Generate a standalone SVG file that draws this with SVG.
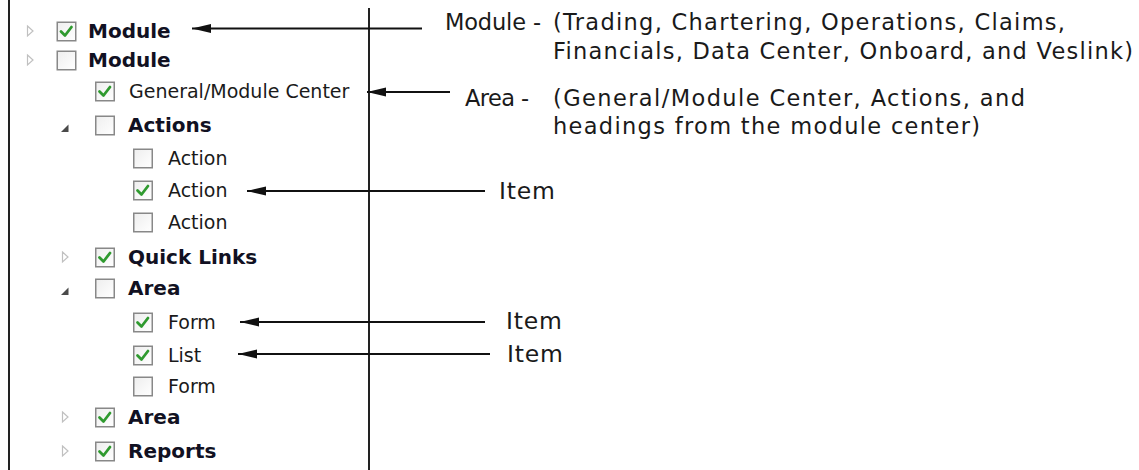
<svg xmlns="http://www.w3.org/2000/svg" xmlns:xlink="http://www.w3.org/1999/xlink" width="1139" height="470" viewBox="0 0 1139 470">
<style>
.b{font-family:"DejaVu Sans",Verdana,sans-serif;font-weight:bold;font-size:20px;fill:#111122}
.n{font-family:"DejaVu Sans",Verdana,sans-serif;font-size:19px;fill:#1a1a1a}
.r{font-family:"DejaVu Sans",Verdana,sans-serif;font-size:22.5px;fill:#1a1a1a}
.it{font-family:"DejaVu Sans",Verdana,sans-serif;font-size:23.5px;fill:#1a1a1a}
.frame{stroke:#222;stroke-width:2;fill:none}
.arr{stroke:#111;stroke-width:2;fill:none;marker-end:url(#ah)}
.tri{fill:#fff;stroke:#c0c0c0;stroke-width:1.2}
.tri2{fill:#4a4a4a}
</style>
<defs>
<linearGradient id="cbg" x1="0" y1="0" x2="1" y2="1">
<stop offset="0" stop-color="#eeeeee"/><stop offset="1" stop-color="#ffffff"/>
</linearGradient>
<g id="cb"><rect x="0.75" y="0.75" width="18.5" height="18.5" fill="url(#cbg)" stroke="#888" stroke-width="1.5"/></g>
<g id="cbc"><use xlink:href="#cb"/><polyline points="4.5,10 8.5,14 15,5.5" fill="none" stroke="#2f9a2f" stroke-width="2.8" stroke-linecap="round" stroke-linejoin="round"/></g>
<marker id="ah" markerUnits="userSpaceOnUse" markerWidth="20" markerHeight="10" refX="19" refY="4.5" orient="auto">
<path d="M0,0 L19,4.5 L0,9 z" fill="#111"/>
</marker>
</defs>

<g id="frame">
<line class="frame" x1="9" y1="0" x2="9" y2="470"/>
<line class="frame" x1="369" y1="8" x2="369" y2="470"/>
</g>

<g id="node-module-1">
<polygon class="tri" points="27.5,26 33,31 27.5,36"/>
<use xlink:href="#cbc" x="56.5" y="21.5"/>
<text class="b" x="88" y="38">Module</text>
</g>
<g id="node-module-2">
<polygon class="tri" points="27.5,55 33,60 27.5,65"/>
<use xlink:href="#cb" x="56.5" y="50.5"/>
<text class="b" x="88" y="67">Module</text>
</g>
<g id="node-general">
<use xlink:href="#cbc" x="95" y="81.5"/>
<text class="n" x="129" y="98">General/Module Center</text>
</g>
<g id="node-actions">
<polygon class="tri2" points="61,132 68.5,124.5 68.5,132"/>
<use xlink:href="#cb" x="95" y="115.5"/>
<text class="b" x="128" y="132">Actions</text>
</g>
<g id="node-action-1">
<use xlink:href="#cb" x="133" y="148.5"/>
<text class="n" x="168" y="165">Action</text>
</g>
<g id="node-action-2">
<use xlink:href="#cbc" x="133" y="180.5"/>
<text class="n" x="168" y="197">Action</text>
</g>
<g id="node-action-3">
<use xlink:href="#cb" x="133" y="212.5"/>
<text class="n" x="168" y="229">Action</text>
</g>
<g id="node-quicklinks">
<polygon class="tri" points="62.5,252 68,257 62.5,262"/>
<use xlink:href="#cbc" x="95" y="247.5"/>
<text class="b" x="128" y="264">Quick Links</text>
</g>
<g id="node-area-1">
<polygon class="tri2" points="61,295 68.5,287.5 68.5,295"/>
<use xlink:href="#cb" x="95" y="278.5"/>
<text class="b" x="128" y="295">Area</text>
</g>
<g id="node-form-1">
<use xlink:href="#cbc" x="133" y="312.5"/>
<text class="n" x="168" y="329">Form</text>
</g>
<g id="node-list">
<use xlink:href="#cbc" x="133" y="345.5"/>
<text class="n" x="168" y="362">List</text>
</g>
<g id="node-form-2">
<use xlink:href="#cb" x="133" y="376.5"/>
<text class="n" x="168" y="393">Form</text>
</g>
<g id="node-area-2">
<polygon class="tri" points="62.5,412 68,417 62.5,422"/>
<use xlink:href="#cbc" x="95" y="407.5"/>
<text class="b" x="128" y="424">Area</text>
</g>
<g id="node-reports">
<polygon class="tri" points="62.5,446 68,451 62.5,456"/>
<use xlink:href="#cbc" x="95" y="441.5"/>
<text class="b" x="128" y="458">Reports</text>
</g>

<g id="label-module">
<text class="r" x="445" y="30" textLength="96" lengthAdjust="spacing">Module -</text>
<text class="r" x="553" y="30" textLength="512" lengthAdjust="spacing">(Trading, Chartering, Operations, Claims,</text>
<text class="r" x="553" y="59" textLength="580" lengthAdjust="spacing">Financials, Data Center, Onboard, and Veslink)</text>
</g>
<g id="label-area">
<text class="r" x="465" y="106" textLength="64" lengthAdjust="spacing">Area -</text>
<text class="r" x="553" y="106" textLength="472" lengthAdjust="spacing">(General/Module Center, Actions, and</text>
<text class="r" x="553" y="134" textLength="427" lengthAdjust="spacing">headings from the module center)</text>
</g>
<g id="label-item-1"><text class="it" x="499" y="199" textLength="56" lengthAdjust="spacing">Item</text></g>
<g id="label-item-2"><text class="it" x="506" y="329" textLength="56" lengthAdjust="spacing">Item</text></g>
<g id="label-item-3"><text class="it" x="507" y="362" textLength="56" lengthAdjust="spacing">Item</text></g>

<g id="connectors">
<line class="arr" x1="422" y1="28.5" x2="192" y2="28.5"/>
<line class="arr" x1="450" y1="92" x2="367" y2="92"/>
<line class="arr" x1="485" y1="191" x2="247" y2="191"/>
<line class="arr" x1="485" y1="322" x2="240" y2="322"/>
<line class="arr" x1="490" y1="354" x2="238" y2="354"/>
</g>
</svg>
